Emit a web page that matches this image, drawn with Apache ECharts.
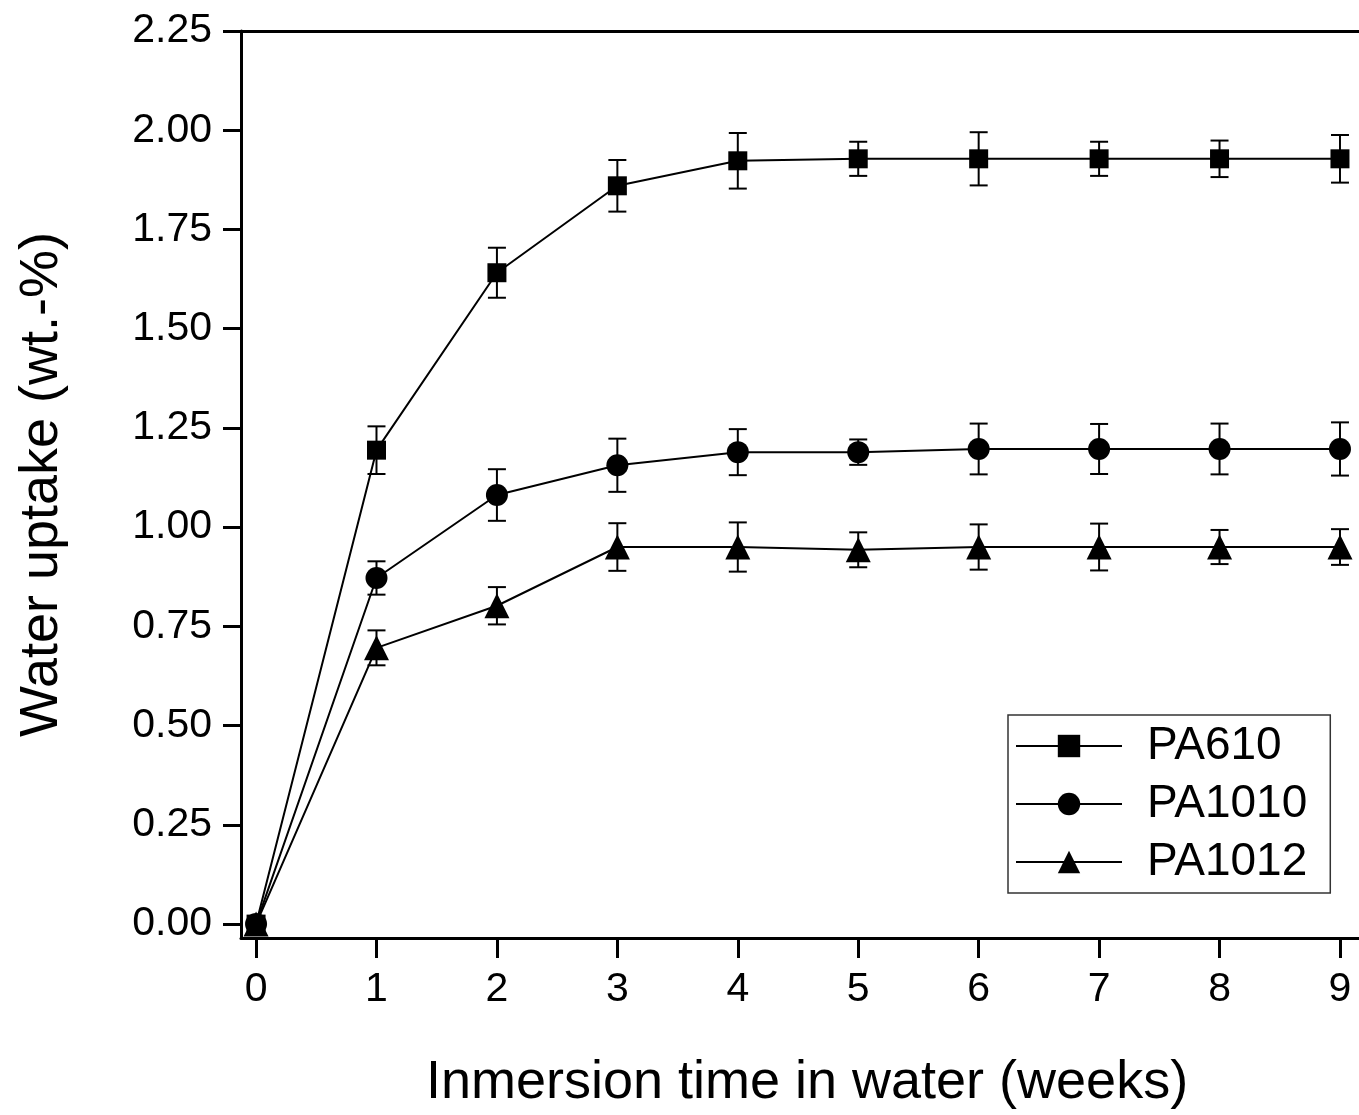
<!DOCTYPE html>
<html>
<head>
<meta charset="utf-8">
<script src="https://cdn.jsdelivr.net/npm/echarts@6/dist/echarts.min.js"></script>
<style>
html,body{margin:0;padding:0;background:#fff;}
#chart{width:1359px;height:1115px;}
</style>
</head>
<body>
<div id="chart"></div>
<script>
var weeks = [0, 1, 2, 3, 4, 5, 6, 7, 8, 9];
var pa610 = [0, 1.194, 1.641, 1.860, 1.923, 1.928, 1.928, 1.928, 1.928, 1.928];
var pa610Err = [0, 0.06, 0.063, 0.065, 0.07, 0.043, 0.067, 0.043, 0.046, 0.06];
var pa1010 = [0, 0.872, 1.081, 1.156, 1.189, 1.189, 1.197, 1.197, 1.197, 1.197];
var pa1010Err = [0, 0.042, 0.065, 0.067, 0.058, 0.032, 0.064, 0.063, 0.064, 0.067];
var pa1012 = [0, 0.696, 0.802, 0.950, 0.950, 0.943, 0.950, 0.950, 0.950, 0.950];
var pa1012Err = [0, 0.044, 0.047, 0.06, 0.062, 0.044, 0.057, 0.059, 0.043, 0.045];
var yTicks = [0, 0.25, 0.5, 0.75, 1.0, 1.25, 1.5, 1.75, 2.0, 2.25];
var xTicks = [0, 1, 2, 3, 4, 5, 6, 7, 8, 9];

var FONT = "'Liberation Sans', Arial, sans-serif";

function pts(vals) { return weeks.map(function (w, i) { return [w, vals[i]]; }); }
function errData(vals, errs) {
  return weeks.map(function (w, i) { return [w, vals[i] - errs[i], vals[i] + errs[i], errs[i]]; });
}
function errRender(params, api) {
  if (api.value(3) <= 0) return null;
  var x = api.value(0);
  var lo = api.coord([x, api.value(1)]);
  var hi = api.coord([x, api.value(2)]);
  var hw = 9;
  var st = { stroke: '#000', lineWidth: 2 };
  return {
    type: 'group',
    children: [
      { type: 'line', shape: { x1: lo[0], y1: lo[1], x2: hi[0], y2: hi[1] }, style: st },
      { type: 'line', shape: { x1: lo[0] - hw, y1: lo[1], x2: lo[0] + hw, y2: lo[1] }, style: st },
      { type: 'line', shape: { x1: hi[0] - hw, y1: hi[1], x2: hi[0] + hw, y2: hi[1] }, style: st }
    ]
  };
}
function lineSeries(name, vals, symbol, size) {
  return {
    name: name, type: 'line', data: pts(vals), symbol: symbol, symbolSize: size,
    itemStyle: { color: '#000' }, lineStyle: { color: '#000', width: 2 }, z: 3
  };
}
function errSeries(vals, errs) {
  return { type: 'custom', renderItem: errRender, data: errData(vals, errs), z: 2, silent: true,
    encode: { x: 0, y: [1, 2] } };
}

var chart = echarts.init(document.getElementById('chart'));
chart.setOption({
  animation: false,
  backgroundColor: '#fff',
  grid: { left: 241, right: 0, top: 31, bottom: 175, containLabel: false },
  xAxis: [{
    type: 'value', min: -0.125, max: 9.158, position: 'bottom',
    name: 'Inmersion time in water (weeks)', nameLocation: 'middle', nameGap: 118,
    nameTextStyle: { fontFamily: FONT, fontSize: 54, color: '#000', padding: [0, 0, 0, 14] },
    axisLine: { show: true, onZero: false, lineStyle: { color: '#000', width: 3 } },
    axisTick: { show: true, customValues: xTicks, length: 20, lineStyle: { color: '#000', width: 3 } },
    axisLabel: { customValues: xTicks, margin: 31, fontFamily: FONT, fontSize: 41, color: '#000' },
    splitLine: { show: false }
  }, {
    type: 'value', min: -0.125, max: 9.158, position: 'top',
    axisLine: { show: true, onZero: false, lineStyle: { color: '#000', width: 3 } },
    axisTick: { show: false }, axisLabel: { show: false }, splitLine: { show: false }
  }],
  yAxis: {
    type: 'value', min: -0.035, max: 2.25,
    name: 'Water uptake (wt.-%)', nameLocation: 'middle', nameGap: 172, nameRotate: 90,
    nameTextStyle: { fontFamily: FONT, fontSize: 54, color: '#000' },
    axisLine: { show: true, onZero: false, lineStyle: { color: '#000', width: 3 } },
    axisTick: { show: true, customValues: yTicks, length: 18, lineStyle: { color: '#000', width: 3 } },
    axisLabel: { customValues: yTicks, margin: 29, fontFamily: FONT, fontSize: 41, color: '#000',
      formatter: function (v) { return v.toFixed(2); } },
    splitLine: { show: false }
  },
  legend: {
    orient: 'vertical', left: 1008, top: 715,
    data: ['PA610', 'PA1010', 'PA1012'],
    itemWidth: 106, itemHeight: 28, itemGap: 8,
    padding: [6, 23, 6, 7],
    borderColor: '#333', borderWidth: 1.5,
    textStyle: { fontFamily: FONT, fontSize: 46, color: '#000', lineHeight: 50, padding: [0, 0, 0, 20] },
    selectedMode: false
  },
  series: [
    errSeries(pa610, pa610Err),
    errSeries(pa1010, pa1010Err),
    errSeries(pa1012, pa1012Err),
    lineSeries('PA610', pa610, 'rect', 19),
    lineSeries('PA1010', pa1010, 'circle', 22),
    lineSeries('PA1012', pa1012, 'triangle', 25)
  ]
});
</script>
</body>
</html>
